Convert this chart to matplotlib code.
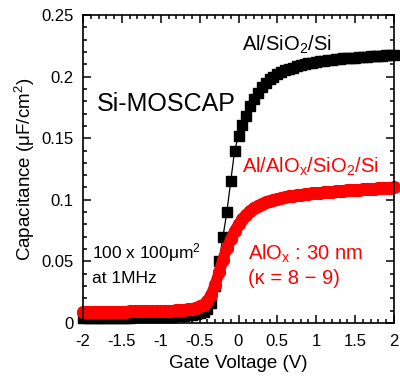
import matplotlib
matplotlib.use("Agg")
import matplotlib.pyplot as plt
from matplotlib.ticker import MultipleLocator

# Gate voltage grid (V)
voltage = [round(-2.0 + 0.05 * i, 2) for i in range(81)]

# Al/SiO2/Si capacitance (uF/cm^2)
cap_sio2 = [
    0.0040, 0.0040, 0.0041, 0.0041, 0.0041, 0.0042, 0.0042, 0.0042, 0.0043, 0.0043,
    0.0043, 0.0044, 0.0044, 0.0045, 0.0045, 0.0046, 0.0046, 0.0047, 0.0047, 0.0048,
    0.0049, 0.0050, 0.0051, 0.0052, 0.0054, 0.0056, 0.0058, 0.0061, 0.0065, 0.0070,
    0.0078, 0.0090, 0.0110, 0.0160, 0.0300, 0.0500, 0.0700, 0.0900, 0.1150, 0.1400,
    0.1520, 0.1610, 0.1680, 0.1760, 0.1820, 0.1870, 0.1915, 0.1950, 0.1980, 0.2000,
    0.2020, 0.2035, 0.2050, 0.2062, 0.2073, 0.2083, 0.2092, 0.2100, 0.2107, 0.2113,
    0.2119, 0.2124, 0.2129, 0.2133, 0.2137, 0.2141, 0.2144, 0.2147, 0.2150, 0.2153,
    0.2155, 0.2158, 0.2160, 0.2162, 0.2164, 0.2166, 0.2168, 0.2170, 0.2172, 0.2174,
    0.2176,
]

# Al/AlOx/SiO2/Si capacitance (uF/cm^2)
cap_alox = [
    0.0090, 0.0090, 0.0090, 0.0091, 0.0091, 0.0091, 0.0092, 0.0092, 0.0092, 0.0093,
    0.0093, 0.0093, 0.0094, 0.0094, 0.0095, 0.0095, 0.0096, 0.0096, 0.0097, 0.0097,
    0.0098, 0.0099, 0.0100, 0.0101, 0.0103, 0.0105, 0.0108, 0.0112, 0.0117, 0.0124,
    0.0134, 0.0150, 0.0180, 0.0230, 0.0310, 0.0410, 0.0515, 0.0605, 0.0680, 0.0745,
    0.0800, 0.0845, 0.0880, 0.0910, 0.0933, 0.0952, 0.0967, 0.0980, 0.0991, 0.1000,
    0.1008, 0.1015, 0.1021, 0.1027, 0.1032, 0.1037, 0.1041, 0.1045, 0.1049, 0.1052,
    0.1055, 0.1058, 0.1061, 0.1064, 0.1067, 0.1069, 0.1072, 0.1074, 0.1076, 0.1078,
    0.1080, 0.1082, 0.1084, 0.1086, 0.1088, 0.1090, 0.1092, 0.1094, 0.1096, 0.1098,
    0.1100,
]

x_ticks = [-2, -1.5, -1, -0.5, 0, 0.5, 1, 1.5, 2]
x_ticklabels = ["-2", "-1.5", "-1", "-0.5", "0", "0.5", "1", "1.5", "2"]
y_ticks = [0, 0.05, 0.1, 0.15, 0.2, 0.25]
y_ticklabels = ["0", "0.05", "0.1", "0.15", "0.2", "0.25"]

plt.rcParams["font.family"] = ["Liberation Sans", "DejaVu Sans"]
plt.rcParams["mathtext.fontset"] = "custom"
plt.rcParams["mathtext.rm"] = "Liberation Sans"
plt.rcParams["mathtext.it"] = "Liberation Sans"
plt.rcParams["mathtext.default"] = "regular"

fig = plt.figure(figsize=(4.0, 3.8), dpi=100)
ax = fig.add_axes([0.2075, 0.15, 0.7775, 0.8105])

ax.plot(voltage, cap_sio2, color="black", lw=0.9, marker="s", ms=6.6,
        mec="black", mfc="black", zorder=2, clip_on=False)
ax.plot(voltage, cap_alox, color="red", lw=8.0, marker="o", ms=8.5,
        mec="red", mfc="red", zorder=3, clip_on=False,
        solid_capstyle="round", solid_joinstyle="round")

ax.set_xlim(-2, 2)
ax.set_ylim(0, 0.25)
ax.set_xticks(x_ticks)
ax.set_xticklabels(x_ticklabels)
ax.set_yticks(y_ticks)
ax.set_yticklabels(y_ticklabels)
ax.xaxis.set_minor_locator(MultipleLocator(0.1))
ax.yaxis.set_minor_locator(MultipleLocator(0.01))
ax.tick_params(which="both", direction="in", top=True, right=True, width=1.1,
               labelsize=12)
ax.tick_params(which="major", length=6)
ax.tick_params(which="minor", length=3)
ax.tick_params(axis="x", which="major", pad=8)
ax.tick_params(axis="y", which="major", pad=7)
for s in ax.spines.values():
    s.set_linewidth(1.2)
    s.set_zorder(5)

ax.set_xlabel("Gate Voltage (V)", fontsize=13.5, labelpad=4)
ax.set_ylabel("Capacitance (μF/cm$^2$)", fontsize=13.5, labelpad=3)

ax.text(-1.82, 0.178, "Si-MOSCAP", fontsize=18, ha="left", va="center")
ax.text(0.05, 0.226, "Al/SiO$_2$/Si", fontsize=14.5, ha="left", va="center")
ax.text(0.05, 0.127, "Al/AlO$_x$/SiO$_2$/Si", fontsize=14.5, ha="left",
        va="center", color="red")
ax.text(-1.88, 0.057, "100 x 100μm$^2$", fontsize=12.5, ha="left", va="center")
ax.text(-1.88, 0.036, "at 1MHz", fontsize=12.5, ha="left", va="center")
ax.text(0.12, 0.056, "AlO$_x$ : 30 nm", fontsize=14.5, ha="left", va="center",
        color="red")
ax.text(0.12, 0.036, "(κ = 8 − 9)", fontsize=14.5, ha="left", va="center",
        color="red")

fig.savefig("out.png", dpi=100)
